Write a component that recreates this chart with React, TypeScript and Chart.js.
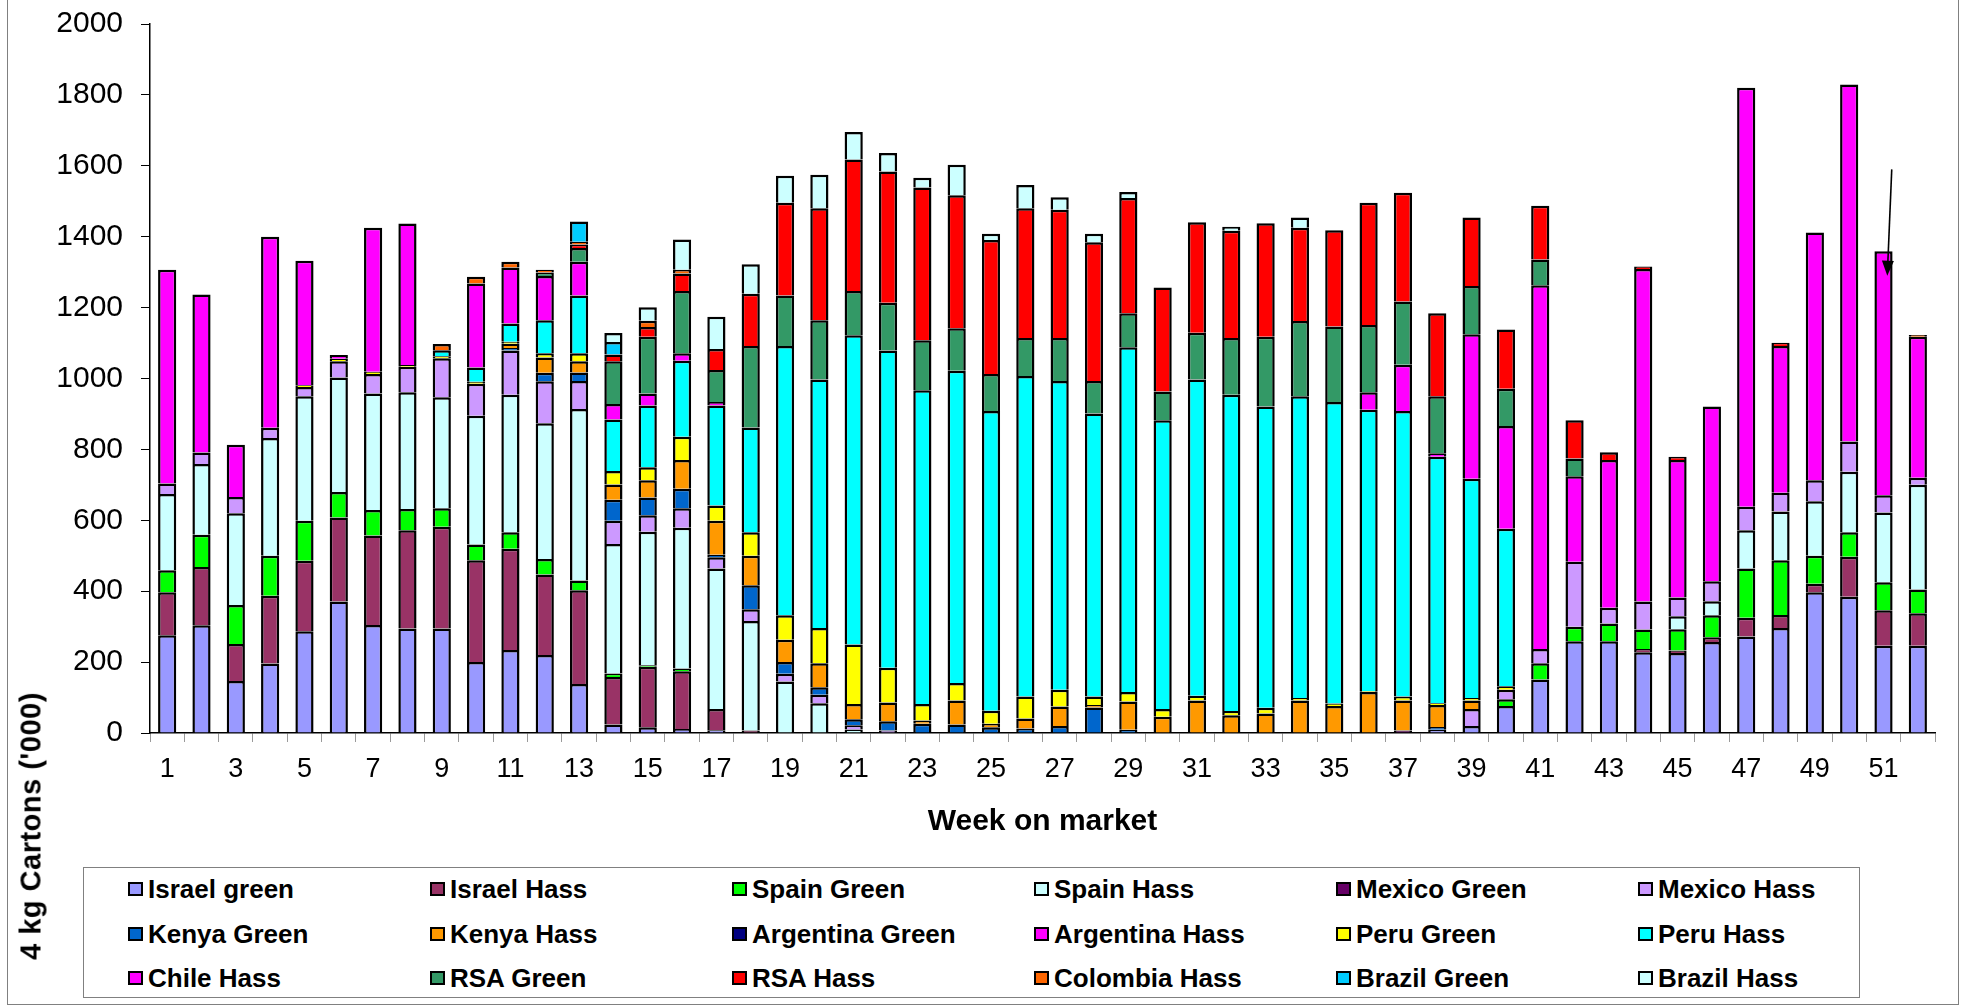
import React, { useEffect, useRef } from "react";
import { Chart, registerables } from "chart.js";

Chart.register(...registerables);

const FONT = "'Liberation Sans', Arial, Helvetica, sans-serif";

// Weeks on market (category axis)
const WEEKS: string[] = Array.from({ length: 52 }, (_, i) => String(i + 1));

// Y axis ticks
const Y_MIN = 0;
const Y_MAX = 2000;
const Y_STEP = 200;

// Series values, '000 of 4 kg cartons, weeks 1..52
const israelGreen = [276, 304, 147, 196, 287, 371, 305, 295, 295, 200, 234, 220, 138, 24, 16, 11, 8, 0, 0, 0, 0, 0, 0, 0, 0, 0, 0, 0, 0, 0, 0, 0, 0, 0, 0, 0, 0, 9, 20, 76, 151, 259, 259, 228, 226, 257, 272, 296, 397, 384, 246, 246];
const israelHass = [121, 164, 104, 191, 199, 237, 252, 277, 287, 287, 286, 227, 265, 134, 171, 163, 60, 7, 0, 0, 0, 0, 0, 0, 0, 0, 0, 0, 0, 0, 0, 0, 0, 0, 0, 0, 0, 0, 0, 0, 0, 0, 0, 9, 7, 13, 53, 37, 24, 113, 100, 92];
const spainGreen = [62, 91, 110, 113, 113, 72, 72, 60, 52, 45, 46, 44, 27, 10, 4, 8, 0, 0, 0, 0, 0, 0, 0, 0, 0, 0, 0, 0, 0, 0, 0, 0, 0, 0, 0, 0, 0, 0, 0, 19, 46, 41, 50, 55, 60, 62, 139, 154, 79, 69, 79, 67];
const spainHass = [215, 200, 259, 332, 351, 323, 329, 329, 313, 363, 388, 383, 484, 365, 377, 397, 396, 309, 145, 84, 10, 0, 0, 0, 0, 0, 0, 0, 0, 0, 0, 0, 0, 0, 0, 0, 0, 0, 0, 0, 0, 0, 0, 0, 36, 40, 108, 138, 154, 171, 197, 295];
const mexicoGreen = [0, 0, 0, 0, 0, 0, 0, 0, 0, 0, 0, 0, 0, 0, 0, 0, 0, 0, 0, 0, 0, 0, 0, 0, 0, 0, 0, 0, 0, 0, 0, 0, 0, 0, 0, 0, 7, 0, 0, 0, 0, 0, 0, 0, 0, 0, 0, 0, 0, 0, 0, 0];
const mexicoHass = [30, 32, 46, 29, 26, 46, 55, 72, 110, 90, 125, 118, 79, 66, 46, 55, 32, 33, 22, 24, 12, 7, 0, 0, 0, 0, 0, 0, 0, 0, 0, 0, 0, 0, 0, 0, 0, 0, 48, 27, 40, 183, 44, 79, 53, 56, 66, 53, 59, 85, 49, 20];
const kenyaGreen = [0, 0, 0, 0, 0, 0, 0, 0, 0, 0, 7, 24, 24, 59, 50, 55, 7, 68, 33, 21, 17, 26, 26, 24, 16, 13, 20, 72, 9, 0, 0, 0, 0, 0, 0, 0, 0, 8, 0, 0, 0, 0, 0, 0, 0, 0, 0, 0, 0, 0, 0, 0];
const kenyaHass = [0, 0, 0, 0, 0, 0, 0, 0, 0, 0, 12, 43, 32, 43, 49, 81, 96, 83, 63, 68, 43, 53, 9, 68, 10, 28, 55, 7, 80, 46, 92, 50, 55, 92, 76, 116, 85, 62, 24, 0, 0, 0, 0, 0, 0, 0, 0, 0, 0, 0, 0, 0];
const argentinaGreen = [0, 0, 0, 0, 0, 0, 0, 0, 0, 0, 0, 0, 0, 0, 0, 0, 0, 0, 0, 0, 0, 0, 0, 0, 0, 0, 0, 0, 0, 0, 0, 0, 0, 0, 0, 0, 0, 0, 0, 0, 0, 0, 0, 0, 0, 0, 0, 0, 0, 0, 0, 0];
const argentinaHass = [0, 0, 0, 0, 0, 0, 0, 0, 0, 0, 0, 0, 0, 0, 0, 0, 0, 0, 0, 0, 0, 0, 0, 0, 0, 0, 0, 0, 0, 0, 0, 0, 0, 0, 0, 0, 0, 0, 0, 0, 0, 0, 0, 0, 0, 0, 0, 0, 0, 0, 0, 0];
const peruGreen = [0, 0, 0, 0, 5, 7, 6, 5, 6, 6, 6, 12, 22, 38, 37, 66, 43, 66, 69, 99, 168, 98, 47, 49, 37, 62, 47, 24, 27, 22, 13, 12, 16, 7, 7, 2, 11, 5, 7, 10, 0, 0, 0, 0, 0, 0, 0, 0, 0, 0, 0, 0];
const peruHass = [0, 0, 0, 0, 0, 0, 0, 0, 17, 40, 51, 93, 163, 145, 174, 214, 282, 296, 760, 701, 872, 895, 885, 881, 845, 904, 871, 798, 972, 814, 892, 892, 850, 851, 851, 794, 805, 695, 618, 444, 0, 0, 0, 0, 0, 0, 0, 0, 0, 0, 0, 0];
const chileHass = [603, 446, 147, 539, 351, 10, 406, 399, 0, 237, 158, 125, 95, 44, 34, 21, 10, 0, 0, 0, 0, 0, 0, 0, 0, 0, 0, 0, 0, 0, 0, 0, 0, 0, 0, 49, 131, 10, 408, 290, 1026, 241, 417, 938, 388, 493, 1182, 414, 699, 1007, 688, 398];
const rsaGreen = [0, 0, 0, 0, 0, 0, 0, 0, 0, 0, 0, 10, 39, 121, 160, 176, 90, 230, 142, 167, 125, 135, 141, 120, 105, 107, 121, 92, 96, 81, 132, 160, 197, 212, 213, 190, 178, 161, 136, 105, 73, 50, 0, 0, 0, 0, 0, 0, 0, 0, 0, 0];
const rsaHass = [0, 0, 0, 0, 0, 0, 0, 0, 0, 0, 0, 0, 10, 19, 27, 49, 59, 147, 262, 316, 371, 370, 431, 375, 378, 366, 362, 391, 325, 294, 312, 303, 320, 263, 271, 345, 307, 234, 193, 167, 151, 108, 22, 7, 9, 0, 0, 9, 0, 0, 0, 0];
const colombiaHass = [0, 0, 0, 0, 0, 0, 0, 0, 17, 19, 16, 8, 8, 0, 18, 11, 0, 0, 0, 0, 0, 0, 0, 0, 0, 0, 0, 0, 0, 0, 0, 0, 0, 0, 0, 0, 0, 0, 0, 0, 0, 0, 0, 0, 0, 0, 0, 0, 0, 0, 0, 5];
const brazilGreen = [0, 0, 0, 0, 0, 0, 0, 0, 0, 0, 0, 0, 57, 35, 0, 0, 0, 0, 0, 0, 0, 0, 0, 0, 0, 0, 0, 0, 0, 0, 0, 0, 0, 0, 0, 0, 0, 0, 0, 0, 0, 0, 0, 0, 0, 0, 0, 0, 0, 0, 0, 0];
const brazilHass = [0, 0, 0, 0, 0, 0, 0, 0, 0, 0, 0, 0, 0, 25, 38, 85, 91, 83, 76, 95, 77, 52, 27, 86, 17, 66, 35, 24, 17, 0, 0, 11, 0, 29, 0, 0, 0, 0, 0, 0, 0, 0, 0, 0, 0, 0, 0, 0, 0, 0, 0, 0];

// Series names and colours, in stacking / legend order
const SERIES_NAMES = [
  "Israel green", "Israel Hass", "Spain Green", "Spain Hass", "Mexico Green", "Mexico Hass",
  "Kenya Green", "Kenya Hass", "Argentina Green", "Argentina Hass", "Peru Green", "Peru Hass",
  "Chile Hass", "RSA Green", "RSA Hass", "Colombia Hass", "Brazil Green", "Brazil Hass",
];
const SERIES_COLORS = [
  "#9999FF", "#993366", "#00FF00", "#CCFFFF", "#660066", "#CC99FF",
  "#0066CC", "#FF9900", "#000080", "#FF00FF", "#FFFF00", "#00FFFF",
  "#FF00FF", "#339966", "#FF0000", "#FF6600", "#00CCFF", "#CCFFFF",
];
const SERIES_VALUES = [
  israelGreen, israelHass, spainGreen, spainHass, mexicoGreen, mexicoHass,
  kenyaGreen, kenyaHass, argentinaGreen, argentinaHass, peruGreen, peruHass,
  chileHass, rsaGreen, rsaHass, colombiaHass, brazilGreen, brazilHass,
];

// Annotation arrow (week 51), in data units
const ARROW_WEEK_INDEX = 50;
const ARROW_FROM = 1590;
const ARROW_TO = 1290;

const X_TITLE = "Week on market";
const Y_TITLE = "4 kg Cartons ('000)";

const arrowPlugin = {
  id: "weekArrow",
  afterDatasetsDraw(chart: any) {
    const { ctx, scales } = chart;
    const x = scales.x;
    const y = scales.y;
    const cw = x.getPixelForValue(1) - x.getPixelForValue(0);
    const cx = x.getPixelForValue(ARROW_WEEK_INDEX);
    const x0 = cx + 0.24 * cw;
    const y0 = y.getPixelForValue(ARROW_FROM);
    const x1 = cx + 0.11 * cw;
    const y1 = y.getPixelForValue(ARROW_TO);
    const ang = Math.atan2(y1 - y0, x1 - x0);
    const hl = 15;
    const hw = 6;
    ctx.save();
    ctx.strokeStyle = "#000";
    ctx.fillStyle = "#000";
    ctx.lineWidth = 1.6;
    ctx.beginPath();
    ctx.moveTo(x0, y0);
    ctx.lineTo(x1 - Math.cos(ang) * hl * 0.8, y1 - Math.sin(ang) * hl * 0.8);
    ctx.stroke();
    const bx = x1 - Math.cos(ang) * hl;
    const by = y1 - Math.sin(ang) * hl;
    ctx.beginPath();
    ctx.moveTo(x1, y1);
    ctx.lineTo(bx + Math.sin(ang) * hw, by - Math.cos(ang) * hw);
    ctx.lineTo(bx - Math.sin(ang) * hw, by + Math.cos(ang) * hw);
    ctx.closePath();
    ctx.fill();
    ctx.restore();
  },
};

export default function App() {
  const canvasRef = useRef<HTMLCanvasElement | null>(null);

  useEffect(() => {
    const canvas = canvasRef.current;
    if (!canvas) return;
    Chart.defaults.font.family = FONT;
    const chart = new Chart(canvas, {
      type: "bar",
      data: {
        labels: WEEKS,
        datasets: SERIES_NAMES.map((name, i) => ({
          label: name,
          data: SERIES_VALUES[i],
          backgroundColor: SERIES_COLORS[i],
          borderColor: "#000000",
          borderWidth: 2.5,
          barPercentage: 0.53,
          categoryPercentage: 1,
        })),
      },
      options: {
        responsive: false,
        animation: false,
        devicePixelRatio: 1,
        layout: { padding: { top: 24, right: 33, left: 0, bottom: 0 } },
        plugins: {
          legend: { display: false },
          tooltip: { enabled: false },
        },
        scales: {
          x: {
            stacked: true,
            offset: true,
            grid: {
              display: true,
              drawOnChartArea: false,
              drawTicks: true,
              tickLength: 9,
              color: "#9a9a9a",
              offset: true,
            },
            border: { display: true, color: "#000", width: 1.5 },
            ticks: {
              autoSkip: false,
              maxRotation: 0,
              minRotation: 0,
              padding: 11,
              color: "#000",
              font: { family: FONT, size: 27 },
              callback: function (this: any, value: any, index: number) {
                return index % 2 === 0 ? this.getLabelForValue(value) : "";
              },
            },
            title: {
              display: true,
              text: X_TITLE,
              color: "#000",
              font: { family: FONT, size: 30, weight: "bold" },
              padding: { top: 0, bottom: 20 },
            },
            afterFit: (s: any) => {
              s.height = 127;
              s.paddingLeft = 0;
              s.paddingRight = 0;
            },
          },
          y: {
            stacked: true,
            min: Y_MIN,
            max: Y_MAX,
            grid: {
              display: true,
              drawOnChartArea: false,
              drawTicks: true,
              tickLength: 9,
              color: "#000",
            },
            border: { display: true, color: "#000", width: 1.5 },
            ticks: {
              stepSize: Y_STEP,
              padding: 18,
              color: "#000",
              font: { family: FONT, size: 30 },
              callback: (value: any) => String(value),
            },
            afterFit: (s: any) => {
              s.width = 150;
              s.paddingTop = 0;
              s.paddingBottom = 0;
            },
          },
        },
      },
      plugins: [arrowPlugin],
    } as any);
    return () => chart.destroy();
  }, []);

  const rowCenters = [21, 66, 110];
  const colStep = 302;

  return (
    <div
      style={{
        position: "fixed",
        left: 0,
        top: 0,
        width: 1968,
        height: 1007,
        background: "#fff",
        overflow: "hidden",
        fontFamily: FONT,
      }}
    >
      <div
        style={{
          position: "absolute",
          left: 7,
          top: -2,
          width: 1952,
          height: 1007,
          border: "1px solid #808080",
          boxSizing: "border-box",
        }}
      />
      <canvas
        ref={canvasRef}
        width={1968}
        height={860}
        style={{ position: "absolute", left: 0, top: 0, width: 1968, height: 860 }}
      />
      <div
        style={{
          position: "absolute",
          left: 31,
          top: 826,
          transform: "translate(-50%, -50%) rotate(-90deg)",
          whiteSpace: "nowrap",
          fontWeight: "bold",
          fontSize: 29,
          letterSpacing: "0.5px",
          color: "#000",
        }}
      >
        {Y_TITLE}
      </div>
      <div
        style={{
          position: "absolute",
          left: 83,
          top: 867,
          width: 1777,
          height: 131,
          border: "1px solid #808080",
          boxSizing: "border-box",
          background: "#fff",
        }}
      >
        {SERIES_NAMES.map((name, i) => {
          const col = i % 6;
          const row = Math.floor(i / 6);
          return (
            <div
              key={name}
              style={{
                position: "absolute",
                left: 44 + col * colStep,
                top: rowCenters[row] - 16,
                height: 32,
                display: "flex",
                alignItems: "center",
                whiteSpace: "nowrap",
              }}
            >
              <span
                style={{
                  display: "inline-block",
                  width: 15,
                  height: 14,
                  background: SERIES_COLORS[i],
                  border: "2px solid #000",
                  boxSizing: "border-box",
                  marginRight: 5,
                }}
              />
              <span style={{ fontWeight: "bold", fontSize: 26, color: "#000" }}>{name}</span>
            </div>
          );
        })}
      </div>
    </div>
  );
}
